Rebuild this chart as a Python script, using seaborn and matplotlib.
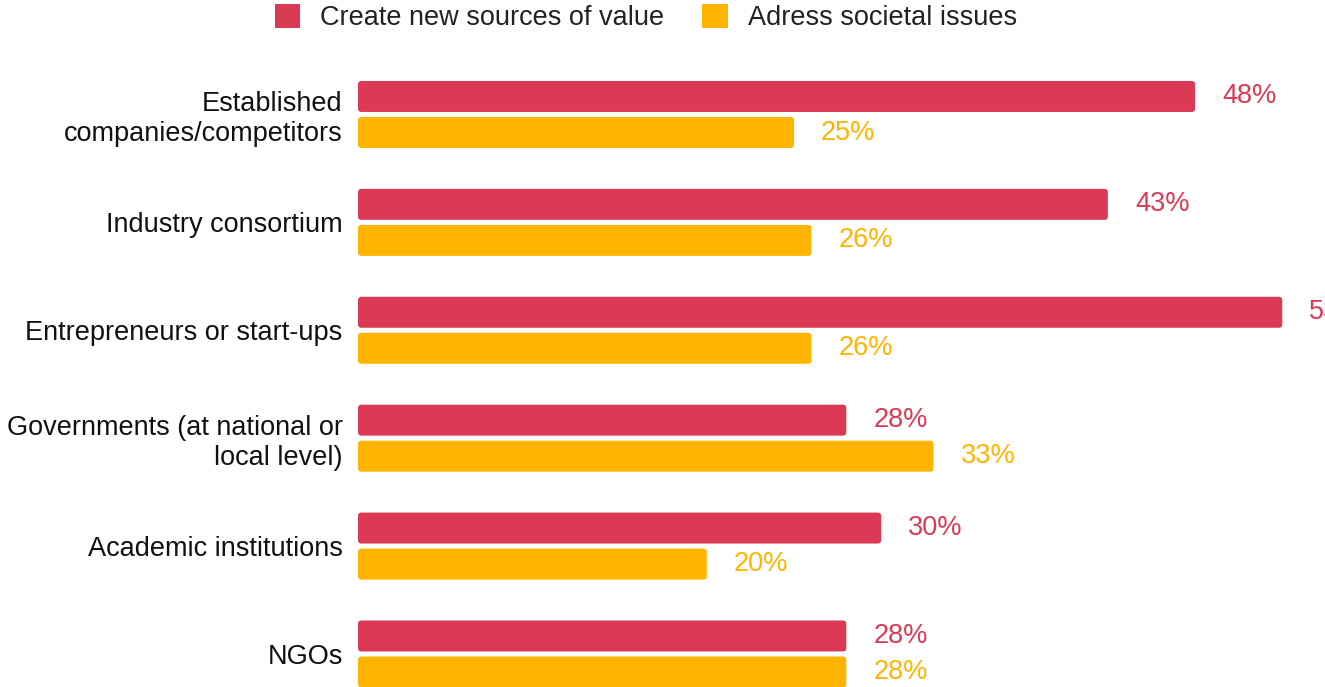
import matplotlib
matplotlib.use("Agg")
import matplotlib.pyplot as plt
import seaborn as sns
import pandas as pd
from matplotlib.patches import FancyBboxPatch, Patch

categories = [
    "Established\ncompanies/competitors",
    "Industry consortium",
    "Entrepreneurs or start-ups",
    "Governments (at national or\nlocal level)",
    "Academic institutions",
    "NGOs",
]
series_names = ["Create new sources of value", "Adress societal issues"]
value_creation = [48, 43, 53, 28, 30, 28]
societal_issues = [25, 26, 26, 33, 20, 28]
colors = ["#DB3A56", "#FFB400"]

df = pd.DataFrame({
    "category": categories * 2,
    "series": [series_names[0]] * len(categories) + [series_names[1]] * len(categories),
    "value": value_creation + societal_issues,
})

sns.set_theme(style="white")
plt.rcParams["font.family"] = ["Liberation Sans", "DejaVu Sans"]

FS = 19.5

fig = plt.figure(figsize=(13.25, 6.87), dpi=100)
ax = fig.add_axes([358 / 1325, 0, 1 - 358 / 1325, 1])

sns.barplot(data=df, y="category", x="value", hue="series", order=categories,
            hue_order=series_names, palette=colors, orient="h",
            width=0.668, gap=0.14, ax=ax, legend=False, saturation=1)

ax.set_xlim(0, 55.45)
ax.set_ylim(5.306, -1.061)

# rounded bar corners
x_px = 967 / 55.45
y_px = 687 / 6.367
r = 3.5 / x_px
aspect = (3.5 / y_px) / r
for p in list(ax.patches):
    x0, y0 = p.get_x(), p.get_y()
    w, h = p.get_width(), p.get_height()
    fc = p.get_facecolor()
    p.set_visible(False)
    ax.add_patch(FancyBboxPatch((x0, y0), w, h,
                                boxstyle=f"round,pad=0,rounding_size={r}",
                                mutation_aspect=aspect, facecolor=fc,
                                edgecolor="none", linewidth=0))

for cont, col in zip(ax.containers, colors):
    ax.bar_label(cont, labels=[f"{v:.0f}%" for v in cont.datavalues],
                 padding=19.5, color=col, fontsize=FS)

for s in ax.spines.values():
    s.set_visible(False)
ax.set_xticks([])
ax.set_xlabel("")
ax.set_ylabel("")
ax.tick_params(axis="y", length=0, pad=11, labelsize=FS, labelcolor="#111111")
for t in ax.get_yticklabels():
    t.set_linespacing(1.2)

handles = [Patch(facecolor=c, edgecolor="none") for c in colors]
fig.legend(handles, series_names, loc="center", bbox_to_anchor=(0.4875, 0.974),
           ncol=2, frameon=False, fontsize=FS, handlelength=0.93,
           handleheight=0.95, handletextpad=0.74, columnspacing=1.4,
           labelcolor="#222222", borderpad=0, borderaxespad=0)

fig.savefig("out.png", dpi=100)
